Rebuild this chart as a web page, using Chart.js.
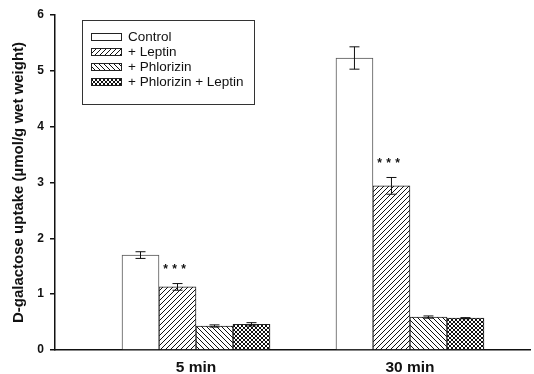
<!DOCTYPE html>
<html>
<head>
<meta charset="utf-8">
<script src="https://cdn.jsdelivr.net/npm/chart.js@4"></script>
<style>
  html, body { margin: 0; padding: 0; background: #fff; }
  #wrap { width: 534px; height: 374px; }
</style>
</head>
<body>
<div id="wrap"><canvas id="chart"></canvas></div>
<script>
// data
const categories = ['5 min', '30 min'];
const seriesNames = ['Control', '+ Leptin', '+ Phlorizin', '+ Phlorizin + Leptin'];
const control = [1.70, 5.23];
const leptin = [1.13, 2.94];
const phlorizin = [0.43, 0.59];
const phlorizinLeptin = [0.46, 0.57];
const controlErr = [0.06, 0.20];
const leptinErr = [0.06, 0.15];
const phlorizinErr = [0.02, 0.02];
const phlorizinLeptinErr = [0.03, 0.01];
const leptinMarks = ['***', '***'];
const yTicks = [0, 1, 2, 3, 4, 5, 6];

const FONT = "'Liberation Sans', Arial, sans-serif";

// hatch fills
function makePattern(kind) {
  const s = kind === 'cross' ? 4 : 5;
  const c = document.createElement('canvas');
  c.width = s; c.height = s;
  const g = c.getContext('2d');
  g.fillStyle = '#fff';
  g.fillRect(0, 0, s, s);
  if (kind === 'none') return '#fff';
  g.strokeStyle = '#111';
  g.lineWidth = 1;
  g.beginPath();
  if (kind === 'fwd' || kind === 'cross') {
    g.moveTo(-1, s + 1); g.lineTo(s + 1, -1);
    g.moveTo(-1, 1); g.lineTo(1, -1);
    g.moveTo(s - 1, s + 1); g.lineTo(s + 1, s - 1);
  }
  if (kind === 'back' || kind === 'cross') {
    g.moveTo(-1, -1); g.lineTo(s + 1, s + 1);
    g.moveTo(s - 1, -1); g.lineTo(s + 1, 1);
    g.moveTo(-1, s - 1); g.lineTo(1, s + 1);
  }
  g.stroke();
  return g.createPattern(c, 'repeat');
}

const fills = [makePattern('none'), makePattern('fwd'), makePattern('back'), makePattern('cross')];
const values = [control, leptin, phlorizin, phlorizinLeptin];
const errors = [controlErr, leptinErr, phlorizinErr, phlorizinLeptinErr];
const marks = [null, leptinMarks, null, null];

const datasets = values.map((vals, i) => ({
  label: seriesNames[i],
  data: vals.map((v, j) => ({ x: j + 1, y: v })),
  backgroundColor: fills[i],
  borderColor: i === 0 ? '#555' : '#222',
  borderWidth: 1,
  barThickness: 37,
  errors: errors[i],
  marks: marks[i]
}));

// error bars and significance stars
const errorBars = {
  id: 'errorBars',
  afterDatasetsDraw(chart) {
    const ctx = chart.ctx;
    const y = chart.scales.y;
    ctx.save();
    ctx.strokeStyle = '#111';
    ctx.lineWidth = 1;
    chart.data.datasets.forEach((ds, i) => {
      const meta = chart.getDatasetMeta(i);
      meta.data.forEach((bar, j) => {
        const v = ds.data[j].y;
        const e = ds.errors[j];
        const top = y.getPixelForValue(v + e);
        const bot = y.getPixelForValue(v - e);
        ctx.beginPath();
        ctx.moveTo(bar.x, top); ctx.lineTo(bar.x, bot);
        ctx.moveTo(bar.x - 5, top); ctx.lineTo(bar.x + 5, top);
        ctx.moveTo(bar.x - 5, bot); ctx.lineTo(bar.x + 5, bot);
        ctx.stroke();
        if (ds.marks && ds.marks[j]) {
          // spaced-out asterisks
          ctx.fillStyle = '#111';
          ctx.font = 'bold 12px ' + FONT;
          ctx.textAlign = 'center';
          ctx.textBaseline = 'middle';
          const stars = ds.marks[j].split('');
          stars.forEach((s, k) => {
            ctx.fillText(s, bar.x - 3 + (k - (stars.length - 1) / 2) * 9, top - 14);
          });
        }
      });
    });
    ctx.restore();
  }
};

// boxed legend inside the plot
const boxLegend = {
  id: 'boxLegend',
  afterDraw(chart) {
    const ctx = chart.ctx;
    ctx.save();
    ctx.strokeStyle = '#333';
    ctx.lineWidth = 1;
    ctx.strokeRect(82.5, 20.5, 172, 84);
    ctx.font = '13.5px ' + FONT;
    ctx.textBaseline = 'middle';
    ctx.textAlign = 'left';
    chart.data.datasets.forEach((ds, i) => {
      const cy = 37 + i * 15;
      ctx.fillStyle = ds.backgroundColor;
      ctx.fillRect(91, cy - 4, 31, 8);
      ctx.strokeStyle = '#222';
      ctx.strokeRect(91.5, cy - 3.5, 30, 7);
      ctx.fillStyle = '#111';
      ctx.fillText(ds.label, 128, cy);
    });
    ctx.restore();
  }
};

new Chart(document.getElementById('chart'), {
  type: 'bar',
  data: { datasets: datasets },
  options: {
    responsive: true,
    maintainAspectRatio: false,
    animation: false,
    layout: { padding: { top: 15, right: 4, left: 0, bottom: 0 } },
    plugins: { legend: { display: false }, tooltip: { enabled: false } },
    scales: {
      x: {
        type: 'linear',
        offset: false,
        min: 0.341,
        max: 2.561,
        grid: { drawOnChartArea: false, drawTicks: false },
        border: { color: '#111', width: 1.5 },
        afterBuildTicks(scale) {
          scale.ticks = categories.map((c, i) => ({ value: i + 1 }));
        },
        afterFit(scale) { scale.height = 24; },
        ticks: {
          color: '#111',
          padding: 8,
          font: { family: FONT, size: 15.5, weight: 'bold' },
          callback: (v) => categories[v - 1]
        }
      },
      y: {
        min: 0,
        max: 6,
        afterBuildTicks(scale) {
          scale.ticks = yTicks.map(v => ({ value: v }));
        },
        afterFit(scale) { scale.width = 55; },
        grid: { drawOnChartArea: false, drawTicks: true, tickLength: 5, color: '#111', lineWidth: 1.5 },
        border: { color: '#111', width: 1.5 },
        ticks: {
          color: '#111',
          padding: 6,
          font: { family: FONT, size: 12, weight: 'bold' }
        },
        title: {
          display: true,
          text: 'D-galactose uptake (\u00b5mol/g wet weight)',
          color: '#111',
          padding: { top: 10, bottom: 0 },
          font: { family: FONT, size: 15, weight: 'bold' }
        }
      }
    }
  },
  plugins: [errorBars, boxLegend]
});
</script>
</body>
</html>
